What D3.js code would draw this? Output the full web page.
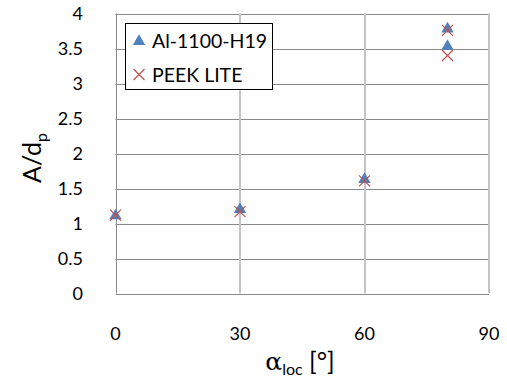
<!DOCTYPE html>
<html>
<head>
<meta charset="utf-8">
<script src="https://cdn.jsdelivr.net/npm/d3@7"></script>
<style>
  body { margin: 0; background: #fff; }
  text { font-family: Lato, "Open Sans", sans-serif; fill: #000; }
</style>
</head>
<body>
<svg id="chart"></svg>
<script>
const alAngles = [0, 30, 60, 80, 80];
const alValues = [1.11, 1.2, 1.63, 3.78, 3.53];
const peekAngles = [0, 30, 60, 80, 80];
const peekValues = [1.12, 1.17, 1.61, 3.76, 3.4];
const xTicks = [0, 30, 60, 90];
const yTicks = [0, 0.5, 1, 1.5, 2, 2.5, 3, 3.5, 4];
const seriesNames = ['Al-1100-H19', 'PEEK LITE'];

const width = 507, height = 379;
const margin = { top: 13.5, right: 18, bottom: 85.5, left: 115.5 };

const svg = d3.select('#chart')
    .attr('width', width)
    .attr('height', height);

const x = d3.scaleLinear()
    .domain([0, 90])
    .range([margin.left, width - margin.right]);

const y = d3.scaleLinear()
    .domain([0, 4])
    .range([height - margin.bottom, margin.top]);

// horizontal grid
svg.append('g')
    .selectAll('line')
    .data(yTicks)
    .join('line')
        .attr('x1', x(0)).attr('x2', x(90))
        .attr('y1', d => Math.round(y(d)) + 0.5)
        .attr('y2', d => Math.round(y(d)) + 0.5)
        .attr('stroke', '#8a8a8a');

// vertical grid (lighter), incl. right edge
svg.append('g')
    .selectAll('line')
    .data(xTicks.filter(d => d > 0))
    .join('line')
        .attr('x1', d => Math.round(x(d))).attr('x2', d => Math.round(x(d)))
        .attr('y1', y(4)).attr('y2', y(0))
        .attr('stroke', '#c4c4c4')
        .attr('stroke-width', 2);

// left edge
svg.append('line')
    .attr('x1', Math.round(x(0)) + 0.5).attr('x2', Math.round(x(0)) + 0.5)
    .attr('y1', y(4)).attr('y2', y(0))
    .attr('stroke', '#8a8a8a');

// y tick labels
svg.append('g')
    .selectAll('text')
    .data(yTicks)
    .join('text')
        .attr('x', 83)
        .attr('y', d => y(d))
        .attr('dy', '0.35em')
        .attr('text-anchor', 'end')
        .style('font-size', '18px')
        .text(d => d);

// x tick labels
svg.append('g')
    .selectAll('text')
    .data(xTicks)
    .join('text')
        .attr('x', d => x(d))
        .attr('y', 340)
        .attr('text-anchor', 'middle')
        .style('font-size', '18px')
        .text(d => d);

// axis titles
const yTitle = svg.append('text')
    .attr('transform', 'translate(41,158) rotate(-90)')
    .attr('text-anchor', 'middle')
    .style('font-size', '25px');
yTitle.append('tspan').text('A/d');
yTitle.append('tspan').attr('dy', 6).style('font-size', '16px').text('p');

const xTitle = svg.append('text')
    .attr('x', 300)
    .attr('y', 370)
    .attr('text-anchor', 'middle')
    .style('font-size', '25px');
xTitle.append('tspan').style('font-family', '"DejaVu Serif", serif').text('α');
xTitle.append('tspan').attr('dy', 5).style('font-size', '16px').text('loc');
xTitle.append('tspan').attr('dy', -5).text(' [°]');

const tri = d3.symbol().type(d3.symbolTriangle).size(66);
const cross = 'M-5.5,-5.5L5.5,5.5M-5.5,5.5L5.5,-5.5';

svg.append('g')
    .selectAll('path')
    .data(d3.zip(alAngles, alValues))
    .join('path')
        .attr('transform', d => `translate(${x(d[0])},${y(d[1])})`)
        .attr('d', tri)
        .attr('fill', '#4f81bd');

svg.append('g')
    .selectAll('path')
    .data(d3.zip(peekAngles, peekValues))
    .join('path')
        .attr('transform', d => `translate(${x(d[0])},${y(d[1])})`)
        .attr('d', cross)
        .attr('stroke', '#c0504d')
        .attr('stroke-width', 1.2)
        .attr('fill', 'none');

// legend
const legend = svg.append('g');
legend.append('rect')
    .attr('x', 125.5).attr('y', 23.5)
    .attr('width', 147).attr('height', 66)
    .attr('fill', '#fff')
    .attr('stroke', '#000');
legend.append('path')
    .attr('transform', 'translate(139,41.5)')
    .attr('d', tri)
    .attr('fill', '#4f81bd');
legend.append('path')
    .attr('transform', 'translate(139,74.5)')
    .attr('d', cross)
    .attr('stroke', '#c0504d')
    .attr('stroke-width', 1.2)
    .attr('fill', 'none');
legend.selectAll('text.lbl')
    .data(seriesNames)
    .join('text')
        .attr('class', 'lbl')
        .attr('x', 152)
        .attr('y', (d, i) => 47.5 + i * 34)
        .style('font-size', '19.5px')
        .text(d => d);
</script>
</body>
</html>
